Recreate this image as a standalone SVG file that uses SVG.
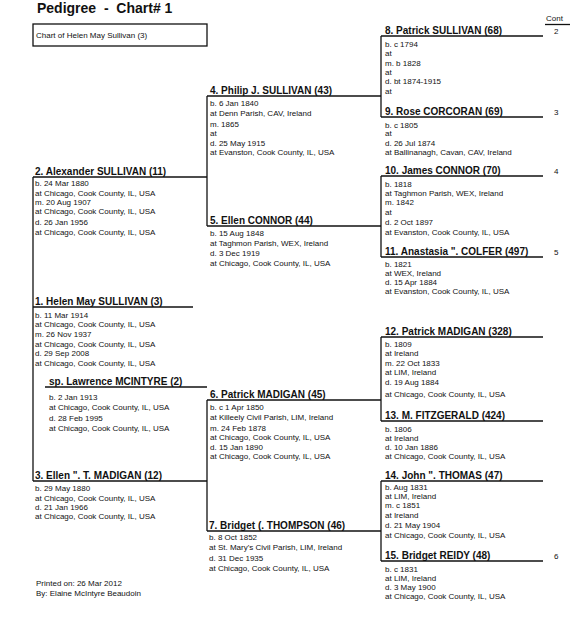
<svg xmlns="http://www.w3.org/2000/svg" width="575" height="640" viewBox="0 0 575 640">
<style>
text{font-family:"Liberation Sans",Arial,sans-serif;fill:#111}
.t{font-size:14px;font-weight:bold;white-space:pre}
.h{font-size:10px;font-weight:bold}
.r{font-size:8px}
.ln{stroke:#111;stroke-width:1.5;fill:none}
.v{stroke:#111;stroke-width:1.3;fill:none}
</style>
<rect width="575" height="640" fill="#fff"/>
<text class="t" x="37" y="13" xml:space="preserve">Pedigree  -  Chart# 1</text>
<g id="chartbox">
<rect x="33" y="24" width="174" height="22" fill="none" stroke="#111" stroke-width="1.3"/>
<text class="r" x="36" y="38">Chart of Helen May Sullivan (3)</text>
</g>
<g id="cont">
<text class="r" x="546" y="21">Cont</text>
<line class="v" x1="545" y1="24.5" x2="570" y2="24.5"/>
<text class="r" x="554" y="34">2</text>
<text class="r" x="554" y="115">3</text>
<text class="r" x="554" y="174">4</text>
<text class="r" x="554" y="255">5</text>
<text class="r" x="554" y="559">6</text>
</g>
<g id="connectors">
<line class="ln" x1="33" y1="307" x2="193" y2="307"/>
<line class="ln" x1="33" y1="177" x2="207" y2="177"/>
<line class="ln" x1="33" y1="481" x2="207" y2="481"/>
<line class="v" x1="33" y1="177" x2="33" y2="481"/>
<line class="ln" x1="45" y1="387" x2="207" y2="387"/>
<line class="ln" x1="207" y1="96" x2="381" y2="96"/>
<line class="ln" x1="207" y1="226" x2="381" y2="226"/>
<line class="v" x1="207" y1="96" x2="207" y2="226"/>
<line class="ln" x1="207" y1="400" x2="381" y2="400"/>
<line class="ln" x1="207" y1="531" x2="381" y2="531"/>
<line class="v" x1="207" y1="400" x2="207" y2="531"/>
<line class="ln" x1="381" y1="36" x2="543" y2="36"/>
<line class="ln" x1="381" y1="117" x2="543" y2="117"/>
<line class="v" x1="381" y1="36" x2="381" y2="117"/>
<line class="ln" x1="381" y1="176" x2="543" y2="176"/>
<line class="ln" x1="381" y1="257" x2="543" y2="257"/>
<line class="v" x1="381" y1="176" x2="381" y2="257"/>
<line class="ln" x1="381" y1="337" x2="543" y2="337"/>
<line class="ln" x1="381" y1="421" x2="543" y2="421"/>
<line class="v" x1="381" y1="337" x2="381" y2="421"/>
<line class="ln" x1="381" y1="481" x2="543" y2="481"/>
<line class="ln" x1="381" y1="561" x2="543" y2="561"/>
<line class="v" x1="381" y1="481" x2="381" y2="561"/>
</g>
<g id="p1">
<text class="h" x="35" y="305">1. Helen May SULLIVAN (3)</text>
<text class="r" x="35" y="318">b. 11 Mar 1914</text>
<text class="r" x="35" y="327">at Chicago, Cook County, IL, USA</text>
<text class="r" x="35" y="337">m. 26 Nov 1937</text>
<text class="r" x="35" y="347">at Chicago, Cook County, IL, USA</text>
<text class="r" x="35" y="356">d. 29 Sep 2008</text>
<text class="r" x="35" y="366">at Chicago, Cook County, IL, USA</text>
</g>
<g id="sp">
<text class="h" x="49" y="385">sp. Lawrence MCINTYRE (2)</text>
<text class="r" x="49" y="400">b. 2 Jan 1913</text>
<text class="r" x="49" y="410">at Chicago, Cook County, IL, USA</text>
<text class="r" x="49" y="421">d. 28 Feb 1995</text>
<text class="r" x="49" y="431">at Chicago, Cook County, IL, USA</text>
</g>
<g id="p2">
<text class="h" x="35" y="175">2. Alexander SULLIVAN (11)</text>
<text class="r" x="35" y="186">b. 24 Mar 1880</text>
<text class="r" x="35" y="196">at Chicago, Cook County, IL, USA</text>
<text class="r" x="35" y="205">m. 20 Aug 1907</text>
<text class="r" x="35" y="214">at Chicago, Cook County, IL, USA</text>
<text class="r" x="35" y="225">d. 26 Jan 1956</text>
<text class="r" x="35" y="235">at Chicago, Cook County, IL, USA</text>
</g>
<g id="p3">
<text class="h" x="35" y="479">3. Ellen ". T. MADIGAN (12)</text>
<text class="r" x="35" y="491">b. 29 May 1880</text>
<text class="r" x="35" y="501">at Chicago, Cook County, IL, USA</text>
<text class="r" x="35" y="510">d. 21 Jan 1966</text>
<text class="r" x="35" y="519">at Chicago, Cook County, IL, USA</text>
</g>
<g id="p4">
<text class="h" x="210" y="94">4. Philip J. SULLIVAN (43)</text>
<text class="r" x="210" y="106">b. 6 Jan 1840</text>
<text class="r" x="210" y="116">at Denn Parish, CAV, Ireland</text>
<text class="r" x="210" y="127">m. 1865</text>
<text class="r" x="210" y="136">at</text>
<text class="r" x="210" y="146">d. 25 May 1915</text>
<text class="r" x="210" y="155">at Evanston, Cook County, IL, USA</text>
</g>
<g id="p5">
<text class="h" x="210" y="224">5. Ellen CONNOR (44)</text>
<text class="r" x="210" y="236">b. 15 Aug 1848</text>
<text class="r" x="210" y="246">at Taghmon Parish, WEX, Ireland</text>
<text class="r" x="210" y="256">d. 3 Dec 1919</text>
<text class="r" x="210" y="266">at Chicago, Cook County, IL, USA</text>
</g>
<g id="p6">
<text class="h" x="210" y="398">6. Patrick MADIGAN (45)</text>
<text class="r" x="210" y="410">b. c 1 Apr 1850</text>
<text class="r" x="210" y="420">at Killeely Civil Parish, LIM, Ireland</text>
<text class="r" x="210" y="431">m. 24 Feb 1878</text>
<text class="r" x="210" y="440">at Chicago, Cook County, IL, USA</text>
<text class="r" x="210" y="450">d. 15 Jan 1890</text>
<text class="r" x="210" y="459">at Chicago, Cook County, IL, USA</text>
</g>
<g id="p7">
<text class="h" x="209" y="529">7. Bridget (. THOMPSON (46)</text>
<text class="r" x="209" y="540">b. 8 Oct 1852</text>
<text class="r" x="209" y="550">at St. Mary's Civil Parish, LIM, Ireland</text>
<text class="r" x="209" y="561">d. 31 Dec 1935</text>
<text class="r" x="209" y="571">at Chicago, Cook County, IL, USA</text>
</g>
<g id="p8">
<text class="h" x="385" y="34">8. Patrick SULLIVAN (68)</text>
<text class="r" x="385" y="47">b. c 1794</text>
<text class="r" x="385" y="56">at</text>
<text class="r" x="385" y="66">m. b 1828</text>
<text class="r" x="385" y="75">at</text>
<text class="r" x="385" y="84">d. bt 1874-1915</text>
<text class="r" x="385" y="94">at</text>
</g>
<g id="p9">
<text class="h" x="385" y="115">9. Rose CORCORAN (69)</text>
<text class="r" x="385" y="128">b. c 1805</text>
<text class="r" x="385" y="136">at</text>
<text class="r" x="385" y="146">d. 26 Jul 1874</text>
<text class="r" x="385" y="155">at Ballinanagh, Cavan, CAV, Ireland</text>
</g>
<g id="p10">
<text class="h" x="385" y="174">10. James CONNOR (70)</text>
<text class="r" x="385" y="187">b. 1818</text>
<text class="r" x="385" y="196">at Taghmon Parish, WEX, Ireland</text>
<text class="r" x="385" y="205">m. 1842</text>
<text class="r" x="385" y="215">at</text>
<text class="r" x="385" y="225">d. 2 Oct 1897</text>
<text class="r" x="385" y="235">at Evanston, Cook County, IL, USA</text>
</g>
<g id="p11">
<text class="h" x="385" y="255">11. Anastasia ". COLFER (497)</text>
<text class="r" x="385" y="267">b. 1821</text>
<text class="r" x="385" y="276">at WEX, Ireland</text>
<text class="r" x="385" y="285">d. 15 Apr 1884</text>
<text class="r" x="385" y="294">at Evanston, Cook County, IL, USA</text>
</g>
<g id="p12">
<text class="h" x="385" y="335">12. Patrick MADIGAN (328)</text>
<text class="r" x="385" y="347">b. 1809</text>
<text class="r" x="385" y="356">at Ireland</text>
<text class="r" x="385" y="366">m. 22 Oct 1833</text>
<text class="r" x="385" y="375">at LIM, Ireland</text>
<text class="r" x="385" y="385">d. 19 Aug 1884</text>
<text class="r" x="385" y="397">at Chicago, Cook County, IL, USA</text>
</g>
<g id="p13">
<text class="h" x="385" y="419">13. M. FITZGERALD (424)</text>
<text class="r" x="385" y="432">b. 1806</text>
<text class="r" x="385" y="441">at Ireland</text>
<text class="r" x="385" y="450">d. 10 Jan 1886</text>
<text class="r" x="385" y="459">at Chicago, Cook County, IL, USA</text>
</g>
<g id="p14">
<text class="h" x="385" y="479">14. John ". THOMAS (47)</text>
<text class="r" x="385" y="490">b. Aug 1831</text>
<text class="r" x="385" y="499">at LIM, Ireland</text>
<text class="r" x="385" y="508">m. c 1851</text>
<text class="r" x="385" y="518">at Ireland</text>
<text class="r" x="385" y="528">d. 21 May 1904</text>
<text class="r" x="385" y="538">at Chicago, Cook County, IL, USA</text>
</g>
<g id="p15">
<text class="h" x="385" y="559">15. Bridget REIDY (48)</text>
<text class="r" x="385" y="572">b. c 1831</text>
<text class="r" x="385" y="581">at LIM, Ireland</text>
<text class="r" x="385" y="590">d. 3 May 1900</text>
<text class="r" x="385" y="599">at Chicago, Cook County, IL, USA</text>
</g>
<g id="footer">
<text class="r" x="36" y="586">Printed on: 26 Mar 2012</text>
<text class="r" x="36" y="596">By: Elaine McIntyre Beaudoin</text>
</g>
</svg>
